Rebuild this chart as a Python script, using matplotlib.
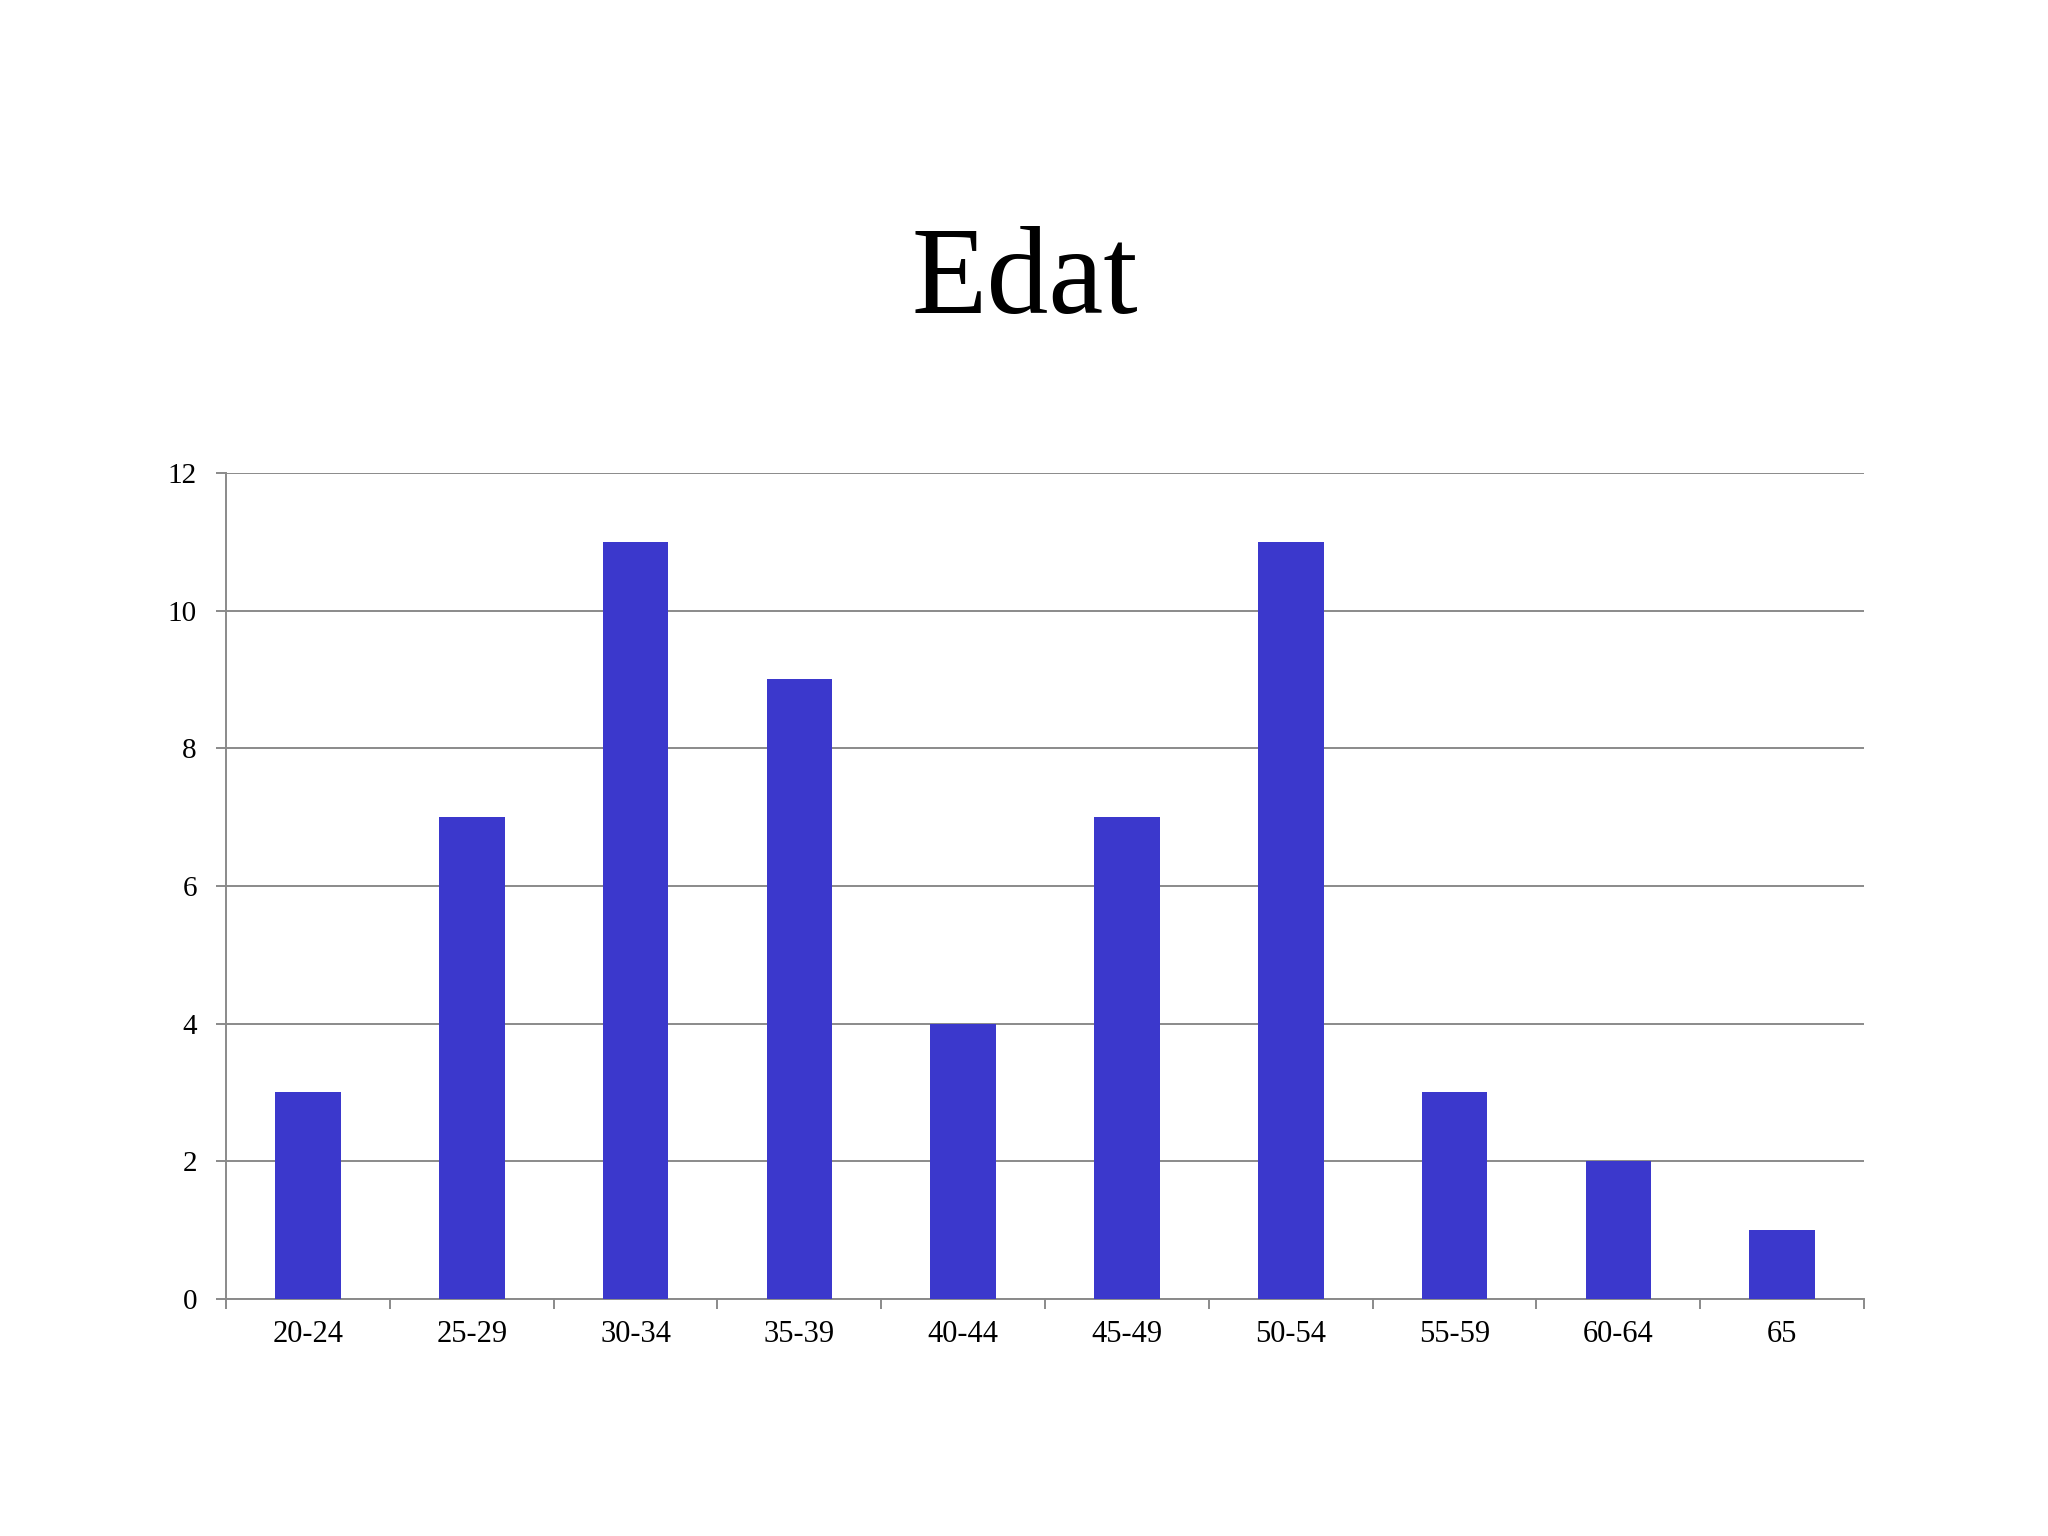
import matplotlib
matplotlib.use("Agg")
import matplotlib.pyplot as plt
import numpy as np

categories = ["20-24", "25-29", "30-34", "35-39", "40-44", "45-49", "50-54", "55-59", "60-64", "65"]
values = [3, 7, 11, 9, 4, 7, 11, 3, 2, 1]
yticks = [0, 2, 4, 6, 8, 10, 12]
title = "Edat"

plt.rcParams['font.family'] = ['Liberation Serif', 'DejaVu Serif']

fig = plt.figure(figsize=(20.48, 15.36), dpi=100)
fig.patch.set_facecolor('white')
ax = fig.add_axes([0.1104, 0.1543, 0.7998, 0.5378])

x = np.arange(len(categories))
ax.bar(x, values, width=0.4, color='#3b38cc', zorder=3)

gray = '#8a8a8a'
ax.set_xlim(-0.5, len(categories) - 0.5)
ax.set_ylim(0, 12)
ax.set_yticks(yticks)
ax.set_yticklabels([str(v) for v in yticks])
ax.yaxis.grid(True, color=gray, linewidth=1.4, zorder=0)
ax.set_axisbelow(True)

# boundary ticks (major) and label positions (minor)
ax.set_xticks(np.arange(-0.5, len(categories), 1.0))
ax.set_xticklabels([])
ax.set_xticks(x, minor=True)
ax.set_xticklabels(categories, minor=True)
ax.tick_params(axis='x', which='major', direction='out', length=7, width=1.4, color=gray)
ax.tick_params(axis='x', which='minor', length=0, pad=15, labelsize=22)
ax.tick_params(axis='y', direction='out', length=7, width=1.4, color=gray, pad=14, labelsize=21)

for s in ['top', 'right']:
    ax.spines[s].set_visible(False)
for s in ['left', 'bottom']:
    ax.spines[s].set_color(gray)
    ax.spines[s].set_linewidth(1.4)

fig.text(0.5005, 0.7962, title, ha='center', va='baseline', fontsize=89, color='black')

fig.savefig("out.png", dpi=100, facecolor='white')
